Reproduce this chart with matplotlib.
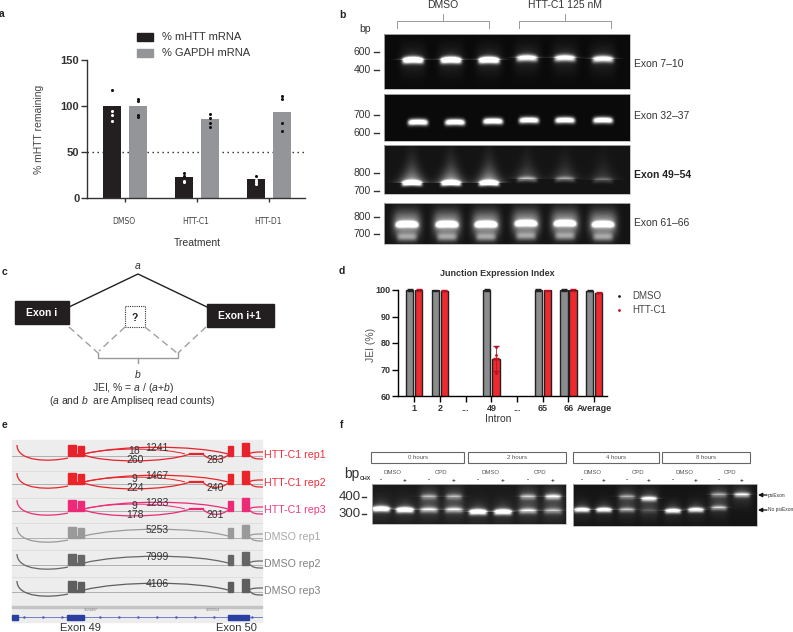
import numpy as np
import matplotlib
matplotlib.use("Agg")
import matplotlib.pyplot as plt
from matplotlib.path import Path
from matplotlib.patches import PathPatch, Rectangle

plt.rcParams['font.family'] = ['Liberation Sans', 'DejaVu Sans']
plt.rcParams['mathtext.fontset'] = 'custom'
plt.rcParams['mathtext.it'] = 'Liberation Sans:italic'
plt.rcParams['mathtext.rm'] = 'Liberation Sans'

W, H = 793, 632

# panel a
a_groups = ["DMSO", "HTT-C1", "HTT-D1"]
a_mhtt = [100, 22.5, 21]
a_gapdh = [100, 86, 94]
a_mhtt_pts = [[117, 95, 90, 84], [27, 24, 19, 17], [24, 20, 17, 15]]
a_gapdh_pts = [[108, 105, 90, 88], [91, 87, 81, 77], [111, 108, 81, 73]]

# panel d
d_labels = ["1", "2", "...", "49", "...", "65", "66", "Average"]
d_dmso = [100, 99.9, np.nan, 100, np.nan, 100, 100, 99.7]
d_c1 = [100, 99.8, np.nan, 74, np.nan, 99.9, 100, 99]
d_c1_pts = [78.5, 75.5, 68.5]

# panel b gels: lane x, band y, brightness
b_lanes = [
    [413, 451, 489, 527, 565, 603],
    [418, 455, 493, 529, 565, 603],
    [412, 451, 489, 527, 565, 603],
    [407, 447, 486, 526, 565, 603],
]
b_band_y = [
    [60, 60, 60, 58, 58, 59],
    [122, 122, 121, 120, 120, 120],
    [183, 183, 183, 179, 179, 180],
    [224, 224, 224, 223, 223, 224],
]
b_amp = [
    [1.0, 1.0, 1.0, 0.7, 0.7, 0.7],
    [1.0, 1.0, 1.0, 0.95, 0.95, 0.95],
    [1.0, 1.0, 1.0, 0.3, 0.25, 0.15],
    [1.0, 1.0, 1.0, 0.9, 0.9, 0.85],
]

# panel f gels, lane x and (upper, lower) band heights/brightness
f_left_x = [381, 405, 429, 454, 478, 503, 528, 553]
f_right_x = [582, 604, 627, 649, 673, 696, 719, 742]
f_left_upper = [0, 0, 0.45, 0.45, 0, 0, 0.55, 0.85]
f_left_lower = [1.0, 1.0, 0.5, 0.5, 1.0, 1.0, 0.5, 0.35]
f_left_up_y = [497, 497, 497, 497, 497, 497, 497, 497]
f_left_lo_y = [509, 510, 510, 510, 512, 512, 511, 511]
f_right_upper = [0, 0, 0.4, 0.95, 0, 0, 0.4, 0.75]
f_right_lower = [0.9, 0.9, 0.4, 0.1, 0.9, 0.85, 0.45, 0]
f_right_up_y = [497, 497, 497, 499, 497, 497, 495, 495]
f_right_lo_y = [510, 510, 510, 511, 511, 510, 508, 508]
f_hours = ["0 hours", "2 hours", "4 hours", "8 hours"]

# panel e
e_names = ["HTT-C1 rep1", "HTT-C1 rep2", "HTT-C1 rep3", "DMSO rep1", "DMSO rep2", "DMSO rep3"]
e_main = [1241, 1467, 1283, 5253, 7999, 4106]
e_top = ["18", "9", "9", None, None, None]
e_low_left = ["260", "224", "178", None, None, None]
e_low_right = ["283", "240", "201", None, None, None]
e_colors = ["#e8222c", "#ea2428", "#ec2a78", "#9a9a9a", "#666666", "#5e5e5e"]
e_text_colors = ["#ef2f3c", "#ef2f3c", "#ee3a80", "#a8a8a8", "#808080", "#808080"]


def gel_image(x0, x1, y0, y1, bands, bg=0.03):
    xx, yy = np.meshgrid(np.arange(x0, x1) + 0.5, np.arange(y0, y1) + 0.5)
    img = np.full(xx.shape, bg)
    for x, y, amp, w, h, bend, smear, halo in bands:
        dx = (xx - x) / w
        yc = y + bend * dx ** 2
        img += 1.3 * amp * np.exp(-dx ** 6) * np.exp(-((yy - yc) / h) ** 2)
        if smear:
            up = np.clip((y - yy) / smear, 0, None)
            img += 0.75 * np.exp(-up) * np.exp(-(dx * (0.8 + up * 0.35)) ** 2) * (yy < y) * amp ** 0.7
        if halo:
            img += halo * np.exp(-(dx * 0.8) ** 4) * np.exp(-((yy - y) / (h * 4.5)) ** 2)
    return np.clip(img, 0, 1)


def draw_gel(ov, x0, x1, y0, y1, bands, bg=0.03):
    img = gel_image(x0, x1, y0, y1, bands, bg)
    ov.imshow(img, extent=(x0, x1, y1, y0), cmap="gray", vmin=0, vmax=1,
              interpolation="bilinear", aspect="auto", zorder=1)
    ov.add_patch(Rectangle((x0, y0), x1 - x0, y1 - y0, fill=False, ec="#b8b8b8", lw=0.6, zorder=2))


def curve(ov, pts, color, lw=0.9, z=4):
    codes = [Path.MOVETO] + [Path.CURVE4] * (len(pts) - 1)
    ov.add_patch(PathPatch(Path(pts, codes), fc="none", ec=color, lw=lw, zorder=z))


fig = plt.figure(figsize=(W / 100, H / 100), dpi=100)
ov = fig.add_axes([0, 0, 1, 1], zorder=0)
ov.axis("off")


def px_axes(x0, x1, ytop, ybot):
    return fig.add_axes([x0 / W, 1 - ybot / H, (x1 - x0) / W, (ybot - ytop) / H], zorder=2)


# ---- panel a
ax = px_axes(87, 305, 60, 198)
ax.patch.set_alpha(0)
ax.set_xlim(-0.528, 2.5)
ax.set_ylim(0, 150)
xs = np.arange(3)
ax.axhline(50, color="#222222", ls=(0, (1, 2.6)), lw=1, zorder=1)
ax.bar(xs - 0.18, a_mhtt, 0.25, color="#231f20", zorder=2)
ax.bar(xs + 0.18, a_gapdh, 0.25, color="#939598", zorder=2)
for i in range(3):
    for v in a_mhtt_pts[i]:
        ax.plot(i - 0.18, v, "o", ms=2.2, mec="none", color="white" if v < a_mhtt[i] else "#111111", zorder=3)
    for v in a_gapdh_pts[i]:
        ax.plot(i + 0.18, v, "o", ms=2.2, mec="none", color="#111111", zorder=3)
ax.set_xticks(xs)
ax.set_xticklabels([])
ax.set_yticks([0, 50, 100, 150])
ax.set_yticklabels(["0", "50", "100", "150"], fontweight="bold", fontsize=8, color="#333333")
ax.tick_params(axis="y", length=4, width=1, pad=1.5, color="#333333")
ax.tick_params(axis="x", length=3, width=1, color="#333333")
for s in ["top", "right"]:
    ax.spines[s].set_visible(False)
for s in ["left", "bottom"]:
    ax.spines[s].set_linewidth(1)
    ax.spines[s].set_color("#333333")
for name, cx in zip(a_groups, [124, 196, 268]):
    ov.text(cx, 221, name, fontsize=5.5, ha="center", va="center", color="#444444", family="DejaVu Sans")
ov.text(197, 243, "Treatment", fontsize=7.5, ha="center", va="center", color="#333333")
ov.text(39, 129, "% mHTT remaining", fontsize=7.5, rotation=90, ha="center", va="center", color="#444444")
ov.add_patch(Rectangle((137, 33), 16, 8, color="#231f20"))
ov.add_patch(Rectangle((137, 49), 16, 8, color="#939598"))
ov.text(162, 37, "% mHTT mRNA", fontsize=8, va="center", color="#333333")
ov.text(162, 53, "% GAPDH mRNA", fontsize=8, va="center", color="#333333")

# ---- panel b
b_boxes = [(384, 630, 34, 89), (384, 630, 94, 141), (384, 630, 145, 194), (384, 630, 203, 244)]
for g, (x0, x1, y0, y1) in enumerate(b_boxes):
    bands = []
    for x, y, amp in zip(b_lanes[g], b_band_y[g], b_amp[g]):
        if g == 0:
            bands.append((x, y, amp, 10.5, 3.2, 0.8, 2.5, 0.1))
        elif g == 1:
            bands.append((x, y, amp, 10, 3.1, 0.6, 0, 0))
        elif g == 2:
            bands.append((x, y, amp, 10, 2.6, 0.9, 11, 0))
        else:
            bands.append((x, y, amp, 11, 2.8, 0.8, 0, 0.55))
            bands.append((x, y + 13, 0.3, 10, 4, 0, 0, 0))
    draw_gel(ov, x0, x1, y0, y1, bands, bg=0.04 if g < 2 else 0.08)
b_ticks = [("600", 52), ("400", 70), ("700", 115), ("600", 133),
           ("800", 173), ("700", 191), ("800", 217), ("700", 234)]
for lab, y in b_ticks:
    ov.text(371, y, lab, fontsize=7.5, ha="right", va="center", color="#333333")
    ov.plot([374, 379], [y, y], color="#333333", lw=1)
ov.text(365, 29, "bp", fontsize=7.5, ha="center", va="center", color="#333333")
ov.text(443, 5, "DMSO", fontsize=7.5, ha="center", va="center", color="#333333")
ov.text(565, 5, "HTT-C1 125 nM", fontsize=7.5, ha="center", va="center", color="#333333")
for x0, x1, xm in [(397, 489, 443), (519, 611, 565)]:
    ov.plot([x0, x0, x1, x1], [28, 21, 21, 28], color="#999999", lw=0.7)
    ov.plot([xm, xm], [14, 21], color="#999999", lw=0.7)
ov.text(634, 64, "Exon 7–10", fontsize=7.5, va="center", color="#333333")
ov.text(634, 116, "Exon 32–37", fontsize=7.5, va="center", color="#333333")
ov.text(634, 175, "Exon 49–54", fontsize=7.5, va="center", color="#222222", fontweight="bold")
ov.text(634, 223, "Exon 61–66", fontsize=7.5, va="center", color="#333333")

# ---- panel c
ov.add_patch(Rectangle((15, 301), 54, 23, color="#231f20", zorder=3))
ov.add_patch(Rectangle((207, 304), 67, 23, color="#231f20", zorder=3))
ov.text(42, 313, "Exon i", color="white", fontsize=7.5, fontweight="bold", ha="center", va="center", zorder=4)
ov.text(240, 316, "Exon i+1", color="white", fontsize=7.5, fontweight="bold", ha="center", va="center", zorder=4)
ov.plot([69, 138, 207], [307, 274, 307], color="#231f20", lw=1)
for xa, ya, xb, yb in [(69, 327, 98, 353), (125, 327, 99, 351), (145, 327, 177, 353), (206, 327, 178, 353)]:
    ov.plot([xa, xb], [ya, yb], color="#a0a0a0", lw=1, ls=(0, (5, 3)))
ov.add_patch(Rectangle((125, 306), 20, 21, fill=False, ec="#333333", lw=0.8, ls=(0, (1, 1))))
ov.text(135, 318, "?", fontsize=7.5, fontweight="bold", ha="center", va="center", color="#222222")
ov.plot([98, 98, 178, 178], [353, 358, 358, 353], color="#999999", lw=1)
ov.plot([138, 138], [358, 363], color="#999999", lw=1)
ov.text(138, 266, "a", fontsize=7.5, style="italic", ha="center", va="center", color="#333333")
ov.text(138, 375, "b", fontsize=7.5, style="italic", ha="center", va="center", color="#333333")
ov.text(133, 388, "JEI, % = $\\mathit{a}$ / ($\\mathit{a}$+$\\mathit{b}$)", fontsize=7.5, ha="center", va="center",
        color="#333333")
ov.text(132, 401, "($\\mathit{a}$ and $\\mathit{b}$  are Ampliseq read counts)", fontsize=7.5, ha="center", va="center",
        color="#333333")

# ---- panel d
ax = px_axes(398, 607, 290, 396)
ax.patch.set_alpha(0)
ax.set_xlim(-0.63, 7.5)
ax.set_ylim(60, 100)
xs = np.arange(8)
ax.bar(xs - 0.177, d_dmso, 0.285, color="#8a8c8e", ec="#222222", lw=1, zorder=2)
ax.bar(xs + 0.177, d_c1, 0.285, color="#ee2a2e", ec="#222222", lw=1, zorder=2)
for i in range(8):
    if not np.isnan(d_dmso[i]):
        ax.errorbar(i - 0.177, d_dmso[i], yerr=0.2, color="#222222", capsize=2.5, lw=0.6, clip_on=False, zorder=3)
        ax.errorbar(i + 0.177, d_c1[i], yerr=0.2, color="#c01020", capsize=2.5, lw=0.6, clip_on=False, zorder=3)
ax.errorbar(3.177, d_c1[3], yerr=4.7, color="#c01020", capsize=2.5, lw=0.6, zorder=3)
ax.plot([3.177] * 3, d_c1_pts, "o", ms=2, mec="none", color="#b01020", zorder=4)
ax.set_xticks(xs)
ax.set_xticklabels(d_labels, fontweight="bold", fontsize=6.5, color="#333333")
ax.set_yticks([60, 70, 80, 90, 100])
ax.set_yticklabels(["60", "70", "80", "90", "100"], fontweight="bold", fontsize=6.5, color="#333333")
ax.tick_params(axis="y", length=4, width=1, pad=1.5)
ax.tick_params(axis="x", length=4, width=1, pad=1.5)
for s in ["top", "right"]:
    ax.spines[s].set_visible(False)
for s in ["left", "bottom"]:
    ax.spines[s].set_linewidth(1)
ov.text(497, 274, "Junction Expression Index", fontsize=6.5, fontweight="bold", ha="center", va="center", color="#333333")
ov.text(371, 345, "JEI (%)", fontsize=7.5, rotation=90, ha="center", va="center", color="#555555")
ov.text(498, 419, "Intron", fontsize=7.5, ha="center", va="center", color="#333333")
ov.plot(619, 296, "o", ms=2, mec="none", color="#222222")
ov.plot(619, 310, "o", ms=2, mec="none", color="#c01020")
ov.text(632, 296, "DMSO", fontsize=7, va="center", color="#444444")
ov.text(632, 310, "HTT-C1", fontsize=7, va="center", color="#444444")

# ---- panel e
ov.add_patch(Rectangle((12, 440), 250, 182, color="#ededed", zorder=0.5))
for y in [471, 498, 523, 550, 577]:
    ov.plot([12, 262], [y, y], color="#dcdcdc", lw=0.6, zorder=0.6)
e_base = [456, 484, 511, 538, 565, 592]
for i, name in enumerate(e_names):
    b = e_base[i]
    c = e_colors[i]
    ov.plot([12, 262], [b, b], color="#b0b0b0", lw=0.7, zorder=1)
    curve(ov, [(17, b - 11), (17, b + 6), (50, b + 6), (68, b + 2)], c)
    for x0, x1, h in [(68, 76, 11), (78, 84, 10), (228, 233, 10), (242, 249, 13)]:
        ov.add_patch(Rectangle((x0, b - h), x1 - x0, h, color=c, zorder=3))
    ov.add_patch(Rectangle((76, b - 2), 2, 2, color=c, zorder=3))
    # exit fork
    curve(ov, [(249, b - 2), (252, b + 3), (256, b + 3), (263, b + 3)], c)
    curve(ov, [(249, b - 2), (252, b - 4), (256, b - 4), (263, b - 4)], c)
    # main junction arc, peak about 8 px above the baseline
    curve(ov, [(84, b - 2), (120, b - 11), (195, b - 11), (228, b - 2)], c)
    ov.text(157, b - 8, str(e_main[i]), fontsize=7.5, ha="center", va="center", color="#333333", zorder=6)
    if e_top[i]:
        curve(ov, [(84, b - 2), (110, b - 9), (165, b - 8), (185, b - 2)], c, lw=0.7)
        curve(ov, [(84, b - 1), (105, b + 7), (165, b + 7), (190, b - 2)], c)
        ov.plot([190, 203], [b - 2, b - 2], color=c, lw=1.6, zorder=3)
        curve(ov, [(203, b - 2), (208, b + 5), (222, b + 5), (228, b - 1)], c)
        ov.text(134, b - 5, e_top[i], fontsize=7.5, ha="center", va="center", color="#333333", zorder=6)
        ov.text(135, b + 4, e_low_left[i], fontsize=7.5, ha="center", va="center", color="#333333", zorder=6)
        ov.text(215, b + 4, e_low_right[i], fontsize=7.5, ha="center", va="center", color="#333333", zorder=6)
    ov.text(264, b - 1, name, fontsize=7.7, va="center", color=e_text_colors[i], zorder=6)
ov.add_patch(Rectangle((12, 606), 250, 2, color="#c4c4c4", zorder=1))
ov.text(91, 610, "3224497", fontsize=2.5, ha="center", va="center", color="#777777")
ov.text(213, 610, "3225554", fontsize=2.5, ha="center", va="center", color="#777777")
ov.plot([12, 262], [617, 617], color="#7080c8", lw=0.7, zorder=2)
ov.plot(np.arange(24, 262, 19), [617] * 13, marker="4", ms=2, ls="none", color="#5060b8", zorder=2)
for x0, x1 in [(12, 18), (67, 84), (228, 249)]:
    ov.add_patch(Rectangle((x0, 614.5), x1 - x0, 5, color="#2a3f9f", zorder=3))
ov.text(80, 628, "Exon 49", fontsize=8, ha="center", va="center", color="#333333")
ov.text(236, 628, "Exon 50", fontsize=8, ha="center", va="center", color="#333333")

# ---- panel f
left_bands = []
for x, u, l, uy, ly in zip(f_left_x, f_left_upper, f_left_lower, f_left_up_y, f_left_lo_y):
    if u:
        left_bands.append((x, uy, u * 0.5, 8, 2.8, 0, 3, 0.12))
    left_bands.append((x, ly, l * 0.75, 9, 2.8, 0.5, 3, 0.1))
right_bands = []
for x, u, l, uy, ly in zip(f_right_x, f_right_upper, f_right_lower, f_right_up_y, f_right_lo_y):
    if u:
        right_bands.append((x, uy, u * 0.55, 8, 2.5, 0, 3, 0.12))
    if l:
        right_bands.append((x, ly, l * 0.72, 8, 2.4, 0.4, 3, 0.08))
draw_gel(ov, 372, 566, 484, 524, left_bands, bg=0.1)
draw_gel(ov, 573, 757, 484, 526, right_bands, bg=0.08)
for (x0, x1), lab in zip([(371, 464), (468, 566), (573, 659), (662, 750)], f_hours):
    ov.add_patch(Rectangle((x0, 452), x1 - x0, 11, fill=False, ec="#666666", lw=0.8))
    ov.text((x0 + x1) / 2, 457.5, lab, fontsize=4.3, ha="center", va="center", color="#555555")
ov.text(352, 474, "bp", fontsize=10, ha="center", va="center", color="#333333")
ov.text(365, 478, "CHX", fontsize=3.8, fontweight="bold", ha="center", va="center", color="#333333")
ov.text(350, 497, "400", fontsize=9.5, ha="center", va="center", color="#333333")
ov.text(350, 514, "300", fontsize=9.5, ha="center", va="center", color="#333333")
ov.plot([362, 366], [497, 497], color="#333333", lw=1)
ov.plot([362, 366], [514, 514], color="#333333", lw=1)
for xs_ in (f_left_x, f_right_x):
    for j, x in enumerate(xs_):
        ov.text(x, 480, "+" if j % 2 else "-", fontsize=4.5, fontweight="bold", ha="center", va="center", color="#333333")
    for j, lab in enumerate(["DMSO", "CPD", "DMSO", "CPD"]):
        cx = (xs_[j * 2] + xs_[j * 2 + 1]) / 2
        ov.text(cx, 473, lab, fontsize=4.3, ha="center", va="center", color="#555555")
for y, lab in [(495, "psiExon"), (510, "No psiExon")]:
    ov.annotate("", xy=(758, y), xytext=(767, y), arrowprops=dict(arrowstyle="-|>", color="#111111", lw=0.9, mutation_scale=6, shrinkA=0, shrinkB=0))
    ov.text(768, y, lab, fontsize=3.5, va="center", color="#333333")

# panel letters
for lab, x, y in [("a", 2, 14), ("b", 342, 15), ("c", 4, 272), ("d", 342, 271), ("e", 4, 425), ("f", 342, 425)]:
    ov.text(x, y, lab, fontsize=7.5, fontweight="bold", ha="center", va="center", color="#222222")

ov.set_xlim(0, W)
ov.set_ylim(H, 0)

fig.savefig("out.png", dpi=100)
